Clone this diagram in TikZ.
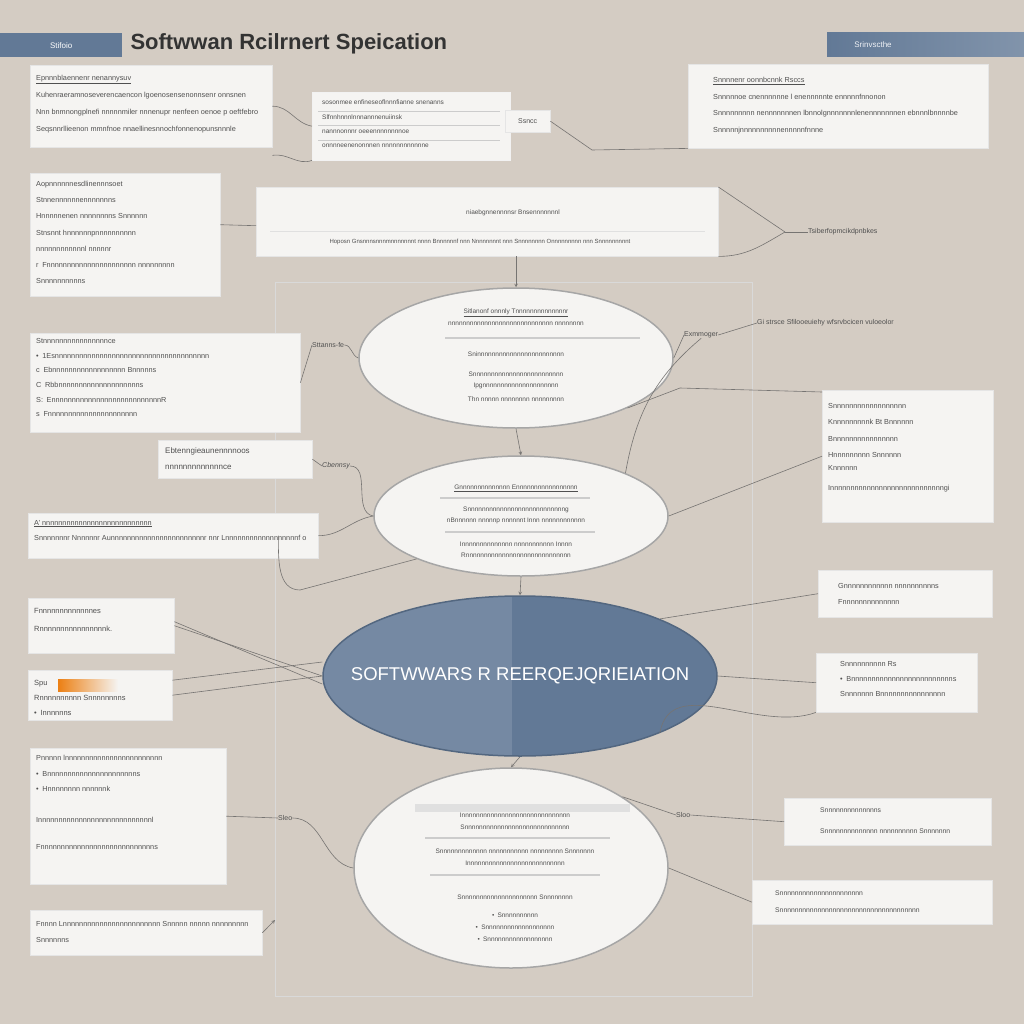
\documentclass[tikz,border=0pt]{standalone}
\usepackage{fontspec}
\setmainfont{Liberation Sans}
\usetikzlibrary{shapes.geometric}
\definecolor{paper}{RGB}{212,204,195}
\definecolor{card}{RGB}{245,244,242}
\definecolor{slate}{RGB}{98,121,150}
\definecolor{ink}{RGB}{80,80,80}
\definecolor{cord}{RGB}{118,116,114}
\begin{document}
\begin{tikzpicture}[x=1pt,y=-1pt]
        \tikzstyle{card} = [rectangle, anchor=north west, inner sep=0pt, fill=card, draw=black!10]
        \tikzstyle{blurb} = [anchor=north west, align=left, inner sep=0pt, text=ink, font=\fontsize{7}{15}\selectfont]
        \tikzstyle{blob} = [ellipse, draw=black!35, line width=1.5pt, fill=card, inner sep=0pt, align=center, text=ink, font=\fontsize{6.5}{11}\selectfont]
        \tikzstyle{lbl} = [inner sep=0pt, text=ink, font=\fontsize{7}{8}\selectfont]
        \tikzstyle{wire} = [draw=cord, line width=0.6pt]
        \tikzstyle{arrow} = [wire, ->, >=stealth]

        \fill[paper] (0,0) rectangle (1024,1024);
        \useasboundingbox (0,0) rectangle (1024,1024);
        \draw[black!15] (275,282) rectangle (752,996);

        % header
        \node (bar1) [rectangle, anchor=north west, fill=slate, minimum width=122, minimum height=24, inner sep=0pt] at (0,33) {};
        \node [text=white, font=\fontsize{8}{9}\selectfont] at (bar1) {Stifoio};
        \shade[left color=slate, right color=slate!80!white] (827,33) rectangle (1024,57);
        \node (bar2) [text=white!90!slate, font=\fontsize{8}{9}\selectfont] at (873,45) {Srinvscthe};
        \node (title) [anchor=west, text=black!80, font=\bfseries\fontsize{22}{24}\selectfont] at (127,44) {Softwwan Rcilrnert Speication};

        % cards
        \node (c1) [card, minimum width=242, minimum height=82] at (30,65) {};
        \node [blurb, font=\fontsize{7.3}{17}\selectfont] at (36,75) {\underline{Epnnnblaennenr nenannysuv}\\ Kuhenraeramnoseverencaencon lgoenosensenonnsenr onnsnen\\ Nnn bnmnongplnefi nnnnnmiler nnnenupr nenfeen oenoe p oeftfebro\\ Seqsnnrllieenon mmnfnoe nnaellinesnnochfonnenopunsnnnle};

        \node (c2) [card, minimum width=198, minimum height=68, draw=black!5] at (312,92) {};
        \draw[black!20] (318,111) -- (500,111) (318,125) -- (500,125) (318,140) -- (500,140);
        \node [blurb, font=\fontsize{6.5}{14.3}\selectfont] at (322,100) {sosonmee enfineseoflnnnfianne snenanns\\ Slfnnhnnnlnnnannnenuiinsk\\ nannnonnnr oeeennnnnnnnoe\\ onnnneenenonnnen nnnnnnnnnnnne};
        \node (tag) [card, minimum width=45, minimum height=22] at (505,110) {};
        \node [lbl] at (tag) {Ssncc};

        \node (c3) [card, minimum width=300, minimum height=84] at (688,64) {};
        \node [blurb, font=\fontsize{7.3}{16.7}\selectfont] at (713,77) {\underline{Snnnnenr oonnbcnnk Rsccs}\\ Snnnnnoe cnennnnnne l enennnnnte ennnnnfnnonon\\ Snnnnnnnnn nennnnnnnen lbnnolgnnnnnnnlenennnnnnnen ebnnnlbnnnnbe\\ Snnnnnjnnnnnnnnnnennnnnfnnne};

        \node (c4) [card, minimum width=190, minimum height=123] at (30,173) {};
        \node [blurb, font=\fontsize{7.3}{16.2}\selectfont] at (36,181) {Aopnnnnnnesdlinennnsoet\\ Stnnennnnnnennnnnnns\\ Hnnnnnenen nnnnnnnns Snnnnnn\\ Stnsnnt hnnnnnnpnnnnnnnnnn\\ nnnnnnnnnnnnl nnnnnr\\ r\enspace Fnnnnnnnnnnnnnnnnnnnnnn nnnnnnnnn\\ Snnnnnnnnnns};

        \node (c5) [card, minimum width=462, minimum height=69] at (256,187) {};
        \draw[black!12] (270,231) -- (705,231);
        \node [lbl, font=\fontsize{6.5}{8}\selectfont] at (513,213) {niaebgnnennnnsr Bnsennnnnnnl};
        \node [lbl, font=\fontsize{6}{8}\selectfont] at (480,242) {Hoposn Gnsnnnsnnnmnnnnnnnt nnnn Bnnnnnnf nnn Nnnnnnnnt nnn Snnnnnnnn Onnnnnnnnn nnn Snnnnnnnnnt};

        \node (c6) [card, minimum width=270, minimum height=99] at (30,333) {};
        \node [blurb, font=\fontsize{7.3}{14.7}\selectfont] at (36,338) {Stnnnnnnnnnnnnnnnnce\\ \textbullet\enspace 1Esnnnnnnnnnnnnnnnnnnnnnnnnnnnnnnnnnnnnnn\\ c\enspace Ebnnnnnnnnnnnnnnnnnn Bnnnnns\\ C\enspace Rbbnnnnnnnnnnnnnnnnnnnns\\ S:\enspace EnnnnnnnnnnnnnnnnnnnnnnnnnnnR\\ s\enspace Fnnnnnnnnnnnnnnnnnnnnnn};

        \node (c7) [card, minimum width=154, minimum height=38] at (158,440) {};
        \node [blurb, font=\fontsize{8}{16}\selectfont] at (165,447) {Ebtenngieaunennnnoos\\ nnnnnnnnnnnnnce};

        \node (c8) [card, minimum width=171, minimum height=132] at (822,390) {};
        \node [blurb, font=\fontsize{7.3}{16.4}\selectfont] at (828,403) {Snnnnnnnnnnnnnnnnnn\\ Knnnnnnnnnk Bt Bnnnnnn\\ Bnnnnnnnnnnnnnnnn\\ Hnnnnnnnnn Snnnnnn\\[-3pt] Knnnnnn\\[3pt] Innnnnnnnnnnnnnnnnnnnnnnnnnnngi};

        \node (c9) [card, minimum width=290, minimum height=45] at (28,513) {};
        \node [blurb, font=\fontsize{7.3}{15}\selectfont] at (34,520) {\underline{A' nnnnnnnnnnnnnnnnnnnnnnnnnnn}\\ Snnnnnnnr Nnnnnnr Aunnnnnnnnnnnnnnnnnnnnnnnr nnr Lnnnnnnnnnnnnnnnnnnf o};

        \node (c10) [card, minimum width=146, minimum height=55] at (28,598) {};
        \node [blurb, font=\fontsize{7.5}{18}\selectfont] at (34,608) {Fnnnnnnnnnnnnnes\\ Rnnnnnnnnnnnnnnnnk.};

        \node (c11) [card, minimum width=174, minimum height=47] at (818,570) {};
        \node [blurb, font=\fontsize{7.3}{16}\selectfont] at (838,583) {Gnnnnnnnnnnnn nnnnnnnnnns\\ Fnnnnnnnnnnnnnn};

        \node (c12) [card, minimum width=144, minimum height=50] at (28,670) {};
        \shade[left color=orange!70!brown, right color=card] (58,679) rectangle (118,691);
        \node [blurb, font=\fontsize{7.5}{15}\selectfont] at (34,680) {Spu\\ Rnnnnnnnnnn Snnnnnnnns\\ \textbullet\enspace Innnnnns};

        \node (c13) [card, minimum width=161, minimum height=59] at (816,653) {};
        \node [blurb, font=\fontsize{7.3}{15}\selectfont] at (840,661) {Snnnnnnnnnn Rs\\ \textbullet\enspace Bnnnnnnnnnnnnnnnnnnnnnnnnns\\ Snnnnnnn Bnnnnnnnnnnnnnnnn};

        \node (c14) [card, minimum width=196, minimum height=136] at (30,748) {};
        \node [blurb, font=\fontsize{7.3}{15.5}\selectfont] at (36,755) {Pnnnnn lnnnnnnnnnnnnnnnnnnnnnnnn\\ \textbullet\enspace Bnnnnnnnnnnnnnnnnnnnnnns\\ \textbullet\enspace Hnnnnnnnn nnnnnnk\\[15pt] Innnnnnnnnnnnnnnnnnnnnnnnnnnnl\\[12pt] Fnnnnnnnnnnnnnnnnnnnnnnnnnnnns};

        \node (c15) [card, minimum width=207, minimum height=47] at (784,798) {};
        \node [blurb, font=\fontsize{6.8}{21}\selectfont] at (820,808) {Snnnnnnnnnnnnnns\\ Snnnnnnnnnnnnnn nnnnnnnnnn Snnnnnnn};

        \node (c16) [card, minimum width=240, minimum height=44] at (752,880) {};
        \node [blurb, font=\fontsize{6.8}{17}\selectfont] at (775,891) {Snnnnnnnnnnnnnnnnnnnnnn\\ Snnnnnnnnnnnnnnnnnnnnnnnnnnnnnnnnnnnnn};

        \node (c17) [card, minimum width=232, minimum height=45] at (30,910) {};
        \node [blurb, font=\fontsize{7.3}{16}\selectfont] at (36,921) {Fnnnn Lnnnnnnnnnnnnnnnnnnnnnnnn Snnnnn nnnnn nnnnnnnnn\\ Snnnnnns};

        % ellipses
        \node (e1) [blob, minimum width=314, minimum height=140] at (516,358) {};
        \draw[black!20, line width=1.5pt] (445,338) -- (640,338);
        \node [lbl, font=\fontsize{6.5}{11.5}\selectfont, align=center] at (516,355) {\underline{Sitlanonf onnnly Tnnnnnnnnnnnnnnr}\\ nnnnnnnnnnnnnnnnnnnnnnnnnnnnn nnnnnnnn\\[20pt] Sninnnnnnnnnnnnnnnnnnnnnnnn\\[8pt] Snnnnnnnnnnnnnnnnnnnnnnnnn\\ Ipgnnnnnnnnnnnnnnnnnnnnn\\[2pt] Thn nnnnn nnnnnnnn nnnnnnnnn};

        \node (e2) [blob, minimum width=294, minimum height=120] at (521,516) {};
        \draw[black!20, line width=1.2pt] (440,498) -- (590,498) (445,532) -- (595,532);
        \node [lbl, font=\fontsize{6.5}{11}\selectfont, align=center] at (516,521) {\underline{Gnnnnnnnnnnnnnn Ennnnnnnnnnnnnnnnn}\\[11pt] Snnnnnnnnnnnnnnnnnnnnnnnnnnng\\ nBnnnnnn nnnnnp nnnnnnt Innn nnnnnnnnnnnn\\[13pt] Innnnnnnnnnnnnn nnnnnnnnnnn Innnn\\ Rnnnnnnnnnnnnnnnnnnnnnnnnnnnnn};

        \begin{scope}
          \clip (520,676) ellipse [x radius=197, y radius=80];
          \fill[slate] (320,590) rectangle (720,760);
          \fill[slate!88!white] (320,590) rectangle (512,760);
        \end{scope}
        \node (core) [blob, minimum width=394, minimum height=160, fill=none, draw=slate!85!black] at (520,676) {};
        \node (coretext) [lbl, text=white, font=\fontsize{18.5}{19}\selectfont] at (core.center) {SOFTWWARS R REERQEJQRIEIATION};

        \node (e3) [blob, minimum width=314, minimum height=200] at (511,868) {};
        \draw[black!12, line width=8pt] (415,808) -- (630,808);
        \draw[black!20, line width=1.2pt] (425,838) -- (610,838) (430,875) -- (600,875);
        \node [lbl, font=\fontsize{6.5}{12}\selectfont, align=center] at (515,877) {Innnnnnnnnnnnnnnnnnnnnnnnnnnnnn\\ Snnnnnnnnnnnnnnnnnnnnnnnnnnnnn\\[12pt] Snnnnnnnnnnnnn nnnnnnnnnnn nnnnnnnnn Snnnnnnn\\ Innnnnnnnnnnnnnnnnnnnnnnnnnn\\[22pt] Snnnnnnnnnnnnnnnnnnnnn Snnnnnnnn\\[6pt] \textbullet\enspace Snnnnnnnnnn\hspace{70pt}\\ \textbullet\enspace Snnnnnnnnnnnnnnnnnnn\hspace{40pt}\\ \textbullet\enspace Snnnnnnnnnnnnnnnnnn\hspace{40pt}};

        % labels
        \coordinate (hub) at (785,232);
        \node (l1) [lbl, anchor=west] at (808,232) {Tsiberfopmcikdpnbkes};
        \node (l2) [lbl, anchor=west] at (312,345) {Sttanns-fe};
        \node (l3) [lbl, anchor=west, font=\itshape\fontsize{7}{8}\selectfont] at (322,466) {Cbennsy};
        \node (l4) [lbl, anchor=west] at (684,335) {Exmmoger};
        \node (l5) [lbl, anchor=west] at (757,323) {Gi strsce Sfilooeuiehy wfsrvbcicen vuloeolor};
        \node (l6) [lbl, anchor=west] at (278,818) {Sleo};
        \node (l7) [lbl, anchor=west] at (676,815) {Sloo};

        % connectors
        \draw[wire] (c1.east) to[out=0,in=170] (c2.west);
        \draw[wire] ([yshift=-8]c1.south east) to[out=10,in=200] (c2.south west);
        \draw[wire] (tag.east) -- (592,150) -- (c3.south west);
        \draw[wire] ([yshift=10]c4.east) -- ([yshift=-4]c5.west);
        \draw[wire] (c5.north east) -- (hub);
        \draw[wire] (c5.south east) to[out=0,in=210] (hub);
        \draw[wire] (hub) -- (l1.west);
        \draw[arrow] (e1.north |- c5.south) -- (e1.north);
        \draw[arrow] (e1.south) -- (e2.north);
        \draw[arrow] (e2.south) -- (core.north);
        \draw[arrow] (core.south) -- (e3.north);
        \draw[wire] (c6.east) -- (l2.west);
        \draw[wire] (l2.east) to[out=0,in=160] (e1.west);
        \draw[wire] (c7.east) -- (l3.west);
        \draw[wire] (l3.east) to[out=0,in=170] (e2.west);
        \draw[wire] (e1.east) -- (l4.west);
        \draw[wire] (l4.east) -- (l5.west);
        \draw[wire] (l4.south) to[out=220,in=80] (e2.north east);
        \draw[wire] (e1.south east) -- (680,388) -- ([yshift=-2]c8.north west);
        \draw[wire] (e2.east) -- (c8.west);
        \draw[wire] ([xshift=-40]c9.east) to[out=270,in=180] (300,590) -- (e2.south west);
        \draw[wire] (c9.east) to[out=0,in=190] (e2.west);
        \draw[wire] (c10.east) -- (core.west);
        \draw[wire] ([yshift=4]c10.east) -- ([yshift=-8]core.west);
        \draw[wire] (c11.west) -- (core.north east);
        \draw[wire] (c12.east) -- (core.west);
        \draw[wire] ([yshift=15]c12.east) -- ([yshift=14]core.west);
        \draw[wire] (c13.west) -- (core.east);
        \draw[wire] (c13.south west) to[out=200,in=80] (core.south east);
        \draw[wire] (c14.east) -- (l6.west);
        \draw[wire] (l6.east) to[out=0,in=170] (e3.west);
        \draw[wire] (e3.north east) -- (l7.west);
        \draw[wire] (l7.east) -- (c15.west);
        \draw[wire] (e3.east) -- (c16.west);
        \draw[arrow] (c17.east) -- (275,920);
\end{tikzpicture}
\end{document}
